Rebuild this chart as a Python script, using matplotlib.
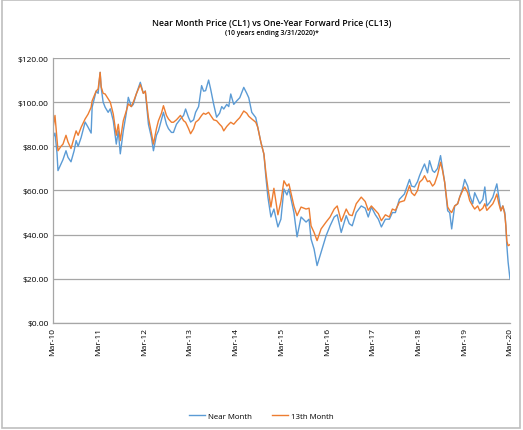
import matplotlib
matplotlib.use("Agg")
import matplotlib.pyplot as plt
from matplotlib.patches import Rectangle
import pandas as pd

# values (approximate)
dates = ['2010-03-31', '2010-04-16', '2010-05-02', '2010-05-10', '2010-06-03', '2010-06-19',
         '2010-07-13', '2010-07-29', '2010-08-22', '2010-09-16', '2010-10-02', '2010-10-18',
         '2010-11-11', '2010-12-13', '2011-01-06', '2011-01-30', '2011-02-07', '2011-03-11',
         '2011-03-27', '2011-04-12', '2011-04-20', '2011-05-06', '2011-05-22', '2011-06-15',
         '2011-07-02', '2011-07-26', '2011-08-19', '2011-09-04', '2011-09-20', '2011-10-14',
         '2011-11-07', '2011-11-23', '2011-12-17', '2012-01-02', '2012-01-26', '2012-02-27',
         '2012-03-22', '2012-04-07', '2012-05-02', '2012-05-26', '2012-06-11', '2012-07-05',
         '2012-07-21', '2012-08-14', '2012-08-30', '2012-09-23', '2012-10-09', '2012-11-02',
         '2012-11-18', '2012-12-12', '2013-01-13', '2013-02-07', '2013-02-23', '2013-03-19',
         '2013-04-04', '2013-04-28', '2013-05-14', '2013-06-07', '2013-07-01', '2013-07-17',
         '2013-08-02', '2013-08-26', '2013-09-11', '2013-10-05', '2013-10-29', '2013-11-22',
         '2013-12-09', '2013-12-25', '2014-01-18', '2014-02-03', '2014-02-19', '2014-03-15',
         '2014-04-08', '2014-05-02', '2014-06-03', '2014-06-27', '2014-07-13', '2014-08-06',
         '2014-09-07', '2014-09-23', '2014-10-18', '2014-11-11', '2014-11-27', '2014-12-13',
         '2015-01-06', '2015-01-30', '2015-03-03', '2015-03-27', '2015-04-20', '2015-05-14',
         '2015-05-30', '2015-07-09', '2015-08-03', '2015-09-04', '2015-10-14', '2015-11-07',
         '2015-11-23', '2015-12-17', '2016-01-10', '2016-02-11', '2016-03-22', '2016-04-23',
         '2016-05-26', '2016-06-19', '2016-07-21', '2016-08-30', '2016-09-23', '2016-10-17',
         '2016-11-18', '2016-12-28', '2017-01-29', '2017-02-22', '2017-03-19', '2017-04-20',
         '2017-05-14', '2017-06-07', '2017-07-09', '2017-08-10', '2017-09-03', '2017-09-27',
         '2017-10-29', '2017-12-08', '2018-01-18', '2018-02-03', '2018-02-27', '2018-03-23',
         '2018-04-08', '2018-05-02', '2018-05-18', '2018-06-11', '2018-06-27', '2018-07-21',
         '2018-08-06', '2018-08-30', '2018-09-23', '2018-10-09', '2018-10-26', '2018-11-19',
         '2018-12-05', '2018-12-21', '2019-01-14', '2019-02-07', '2019-02-23', '2019-03-19',
         '2019-04-04', '2019-04-28', '2019-05-14', '2019-06-07', '2019-06-23', '2019-07-17',
         '2019-08-02', '2019-08-27', '2019-09-12', '2019-09-28', '2019-10-22', '2019-11-15',
         '2019-12-01', '2019-12-17', '2020-01-02', '2020-01-18', '2020-02-03', '2020-02-19',
         '2020-02-27', '2020-03-06', '2020-03-16', '2020-03-31']

near_month = [84, 86, 77, 69, 72, 74,
              78, 75, 73, 78, 82.6, 80,
              84, 91, 88.6, 86, 97.7, 105,
              104, 113.5, 106.7, 100, 97.7, 95.4,
              97, 91.6, 81, 87, 76.6, 87,
              95, 102.2, 98, 99, 103.7, 109,
              104, 105, 90, 84, 78, 85,
              87, 92, 95.4, 90, 88, 86.3,
              86.3, 90, 92.4, 94, 96.9, 93,
              91, 92, 95.4, 98, 107.5, 105,
              105.2, 110, 106, 99.2, 93.2, 95,
              98, 96.9, 99, 98, 103.7, 99,
              100.6, 102, 106.7, 104, 102, 95.4,
              93, 88.6, 81.8, 76.5, 66, 57,
              48, 51.6, 43.5, 47, 60.7, 58,
              60.7, 50, 39, 48, 45.7, 47,
              38, 33.5, 26, 32, 39.5, 44,
              48, 49, 41, 48.6, 45, 44,
              50, 53, 52, 48, 52.5, 49,
              47, 43.5, 47, 47, 50, 50,
              56, 58.4, 65, 62, 61.6, 64,
              66.7, 70, 72, 68, 73.5, 69,
              68.2, 70, 75.8, 70, 63.7, 50.8,
              50, 42.6, 53, 54, 57, 61,
              65, 62, 57.7, 54, 59, 56,
              54, 56, 61.6, 53, 54.7, 57,
              60, 63, 57, 50.8, 53, 50,
              44, 35, 27.6, 20]

month_13 = [88, 94, 83, 78, 80, 81,
            85, 82, 79, 84, 87, 85,
            88.6, 92.4, 94.6, 97.7, 100.6, 105,
            106, 113.5, 107, 104, 103.7, 101.5,
            100, 94.6, 85, 90, 82.6, 91.6,
            96, 99.2, 98, 100, 103.7, 108,
            104, 105, 93, 86, 81, 88,
            91.6, 95, 98.4, 94, 92.4, 90.9,
            90.9, 92, 94, 91.6, 90.9, 88,
            85.7, 88, 90.9, 92, 94, 95,
            94.5, 95.4, 94, 92, 91.6, 90,
            89, 87, 89, 90, 90.9, 90,
            91.6, 93, 96, 95, 93.6, 92.4,
            90.9, 88.6, 81.8, 76.5, 68, 61,
            52.5, 61, 49, 55, 64.4, 62,
            63, 53, 48.6, 52.5, 51.6, 52,
            44, 41, 37.3, 42.6, 45.7, 48,
            51.6, 53, 46, 51.6, 49, 48.6,
            54, 57, 55, 51, 53, 51,
            49.5, 46.3, 49, 48, 51.6, 51,
            54.7, 55.4, 62.2, 59, 57.7, 60,
            63.7, 65, 66.7, 64, 64.4, 62,
            63, 67, 72.8, 69, 63.7, 52.5,
            51, 50, 53, 54, 57, 60,
            61.6, 59, 55.4, 53, 51.6, 53,
            50.8, 52, 54, 51, 52.5, 54,
            56, 58.4, 54, 50.8, 53, 49,
            44, 37, 35, 35.5]

tick_dates = ['2010-03-31', '2011-03-31', '2012-03-31', '2013-03-31', '2014-03-31', '2015-03-31',
              '2016-03-31', '2017-03-31', '2018-03-31', '2019-03-31', '2020-03-31']
y_ticks = [0, 20, 40, 60, 80, 100, 120]

plt.rcParams['font.family'] = ['Open Sans', 'DejaVu Sans']

x = pd.to_datetime(dates)
xt = pd.to_datetime(tick_dates)

fig = plt.figure(figsize=(5.23, 4.31), dpi=100)
ax = fig.add_axes([0.1013, 0.2483, 0.8738, 0.6148])

ax.plot(x, near_month, color='#5B9BD5', linewidth=1.0, label='Near Month')
ax.plot(x, month_13, color='#ED7D31', linewidth=1.0, label='13th Month')

ax.set_ylim(0, 120)
ax.set_yticks(y_ticks)
ax.set_yticklabels(['${:.2f}'.format(v) for v in y_ticks], fontsize=6)
ax.set_xlim(xt[0], xt[-1])
ax.set_xticks(xt)
ax.set_xticklabels([d.strftime('%b-%y') for d in xt], rotation=90, fontsize=6)
ax.tick_params(length=0, pad=3)

ax.grid(axis='y', color='#A6A6A6', linewidth=0.9)
ax.set_axisbelow(True)
for s in ['top', 'right']:
    ax.spines[s].set_visible(False)
for s in ['left', 'bottom']:
    ax.spines[s].set_color('#A6A6A6')
    ax.spines[s].set_linewidth(0.9)

fig.text(0.52, 0.945, 'Near Month Price (CL1) vs One-Year Forward Price (CL13)',
         ha='center', va='center', fontsize=6.3, fontweight='semibold')
fig.text(0.52, 0.923, '(10 years ending 3/31/2020)*', ha='center', va='center',
         fontsize=4.9, fontweight='semibold')

fig.legend(loc='center', bbox_to_anchor=(0.50, 0.032), ncol=2, frameon=False,
           fontsize=5.7, handlelength=2.0, handletextpad=0.4, columnspacing=2.5)

# chart border
fig.patches.append(Rectangle((0.003, 0.004), 0.992, 0.993, transform=fig.transFigure,
                             fill=False, edgecolor='#BFBFBF', linewidth=1.2))

fig.savefig('out.png', dpi=100)
